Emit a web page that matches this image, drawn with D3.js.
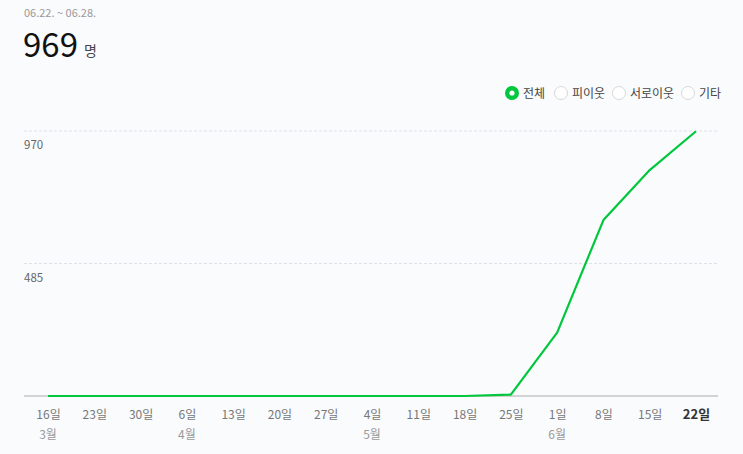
<!DOCTYPE html>
<html>
<head>
<meta charset="utf-8">
<script src="https://cdn.jsdelivr.net/npm/d3@7"></script>
<style>
  html, body { margin: 0; padding: 0; background: #f9fbfd; }
  svg { display: block; }
  text { font-family: "Noto Sans CJK KR", "Noto Sans", sans-serif; }
</style>
</head>
<body>
<svg id="chart" width="743" height="454"></svg>
<script>
const dayLabels = ["16일","23일","30일","6일","13일","20일","27일","4일","11일","18일","25일","1일","8일","15일","22일"];
const monthLabels = ["3월","","","4월","","","","5월","","","","6월","","",""];
const visitors = [0,0,0,0,0,0,0,0,0,0,5,232,644,827,969];
const yTicks = [0, 485, 970];
const legendItems = ["전체","피이웃","서로이웃","기타"];
const periodLabel = "06.22. ~ 06.28.";
const totalValue = "969";
const unitLabel = "명";

const svg = d3.select("#chart");
const plotLeft = 24, plotRight = 718, plotTop = 131, plotBottom = 396;

const x = d3.scalePoint().domain(dayLabels).range([48, 696]);
const y = d3.scaleLinear().domain([0, 970]).range([plotBottom, plotTop]);

// header
svg.append("text").attr("x", 24).attr("y", 16.5).attr("font-size", 11)
  .attr("fill", "#999").attr("font-family", "'Liberation Sans', Arial, sans-serif")
  .text(periodLabel);
svg.append("text").attr("x", 23).attr("y", 56.5).attr("font-size", 33)
  .attr("fill", "#111").attr("font-family", "'Liberation Sans', Arial, sans-serif")
  .text(totalValue);
svg.append("text").attr("x", 84).attr("y", 56).attr("font-size", 14)
  .attr("fill", "#444").text(unitLabel);

// legend
const legendX = [512, 561, 619, 688];
const lg = svg.append("g");
legendItems.forEach((t, i) => {
  const g = lg.append("g").attr("transform", `translate(${legendX[i]},93)`);
  if (i === 0) {
    g.append("circle").attr("r", 7).attr("fill", "#00c73c");
    g.append("circle").attr("r", 2.6).attr("fill", "#fff");
  } else {
    g.append("circle").attr("r", 6.5).attr("fill", "#fff").attr("stroke", "#d8d8d8").attr("stroke-width", 1);
  }
  g.append("text").attr("x", 11).attr("y", 4.5).attr("font-size", 12)
    .attr("fill", "#444").text(t);
});

// gridlines
const grid = svg.append("g");
yTicks.filter(v => v > 0).forEach(v => {
  grid.append("line").attr("x1", plotLeft).attr("x2", plotRight)
    .attr("y1", y(v)).attr("y2", y(v))
    .attr("stroke", "#dde2e7").attr("stroke-width", 1).attr("stroke-dasharray", "3,2");
});
// y labels
yTicks.filter(v => v > 0).forEach(v => {
  svg.append("text").attr("x", 24).attr("y", y(v) + 18).attr("font-size", 11.5)
    .attr("fill", "#666").attr("font-family", "'Liberation Sans', Arial, sans-serif").text(v);
});

// baseline axis
const xAxis = d3.axisBottom(x).tickSize(0).tickPadding(0);
const ax = svg.append("g").attr("transform", `translate(0,${plotBottom})`).call(xAxis);
ax.select(".domain").remove();
ax.append("line").attr("x1", plotLeft).attr("x2", plotRight).attr("y1", 0).attr("y2", 0)
  .attr("stroke", "#c6c6c6").attr("stroke-width", 1.3);
ax.selectAll(".tick text")
  .attr("y", 23).attr("dy", 0)
  .attr("font-family", "'Noto Sans CJK KR', sans-serif")
  .attr("fill", (d, i) => i === dayLabels.length - 1 ? "#333" : "#777")
  .attr("font-weight", (d, i) => i === dayLabels.length - 1 ? "bold" : "normal")
  .attr("font-size", (d, i) => i === dayLabels.length - 1 ? 13 : 12);

// month labels
svg.append("g").selectAll("text").data(dayLabels.map((d, i) => ({d, m: monthLabels[i]})).filter(o => o.m))
  .join("text")
  .attr("x", o => x(o.d)).attr("y", 439).attr("text-anchor", "middle")
  .attr("font-size", 12).attr("fill", "#999").text(o => o.m);

// line
const line = d3.line().x((d, i) => x(dayLabels[i])).y(d => y(d));
svg.append("path").datum(visitors).attr("d", line)
  .attr("fill", "none").attr("stroke", "#00c73c").attr("stroke-width", 2.2)
  .attr("stroke-linejoin", "round");
</script>
</body>
</html>
